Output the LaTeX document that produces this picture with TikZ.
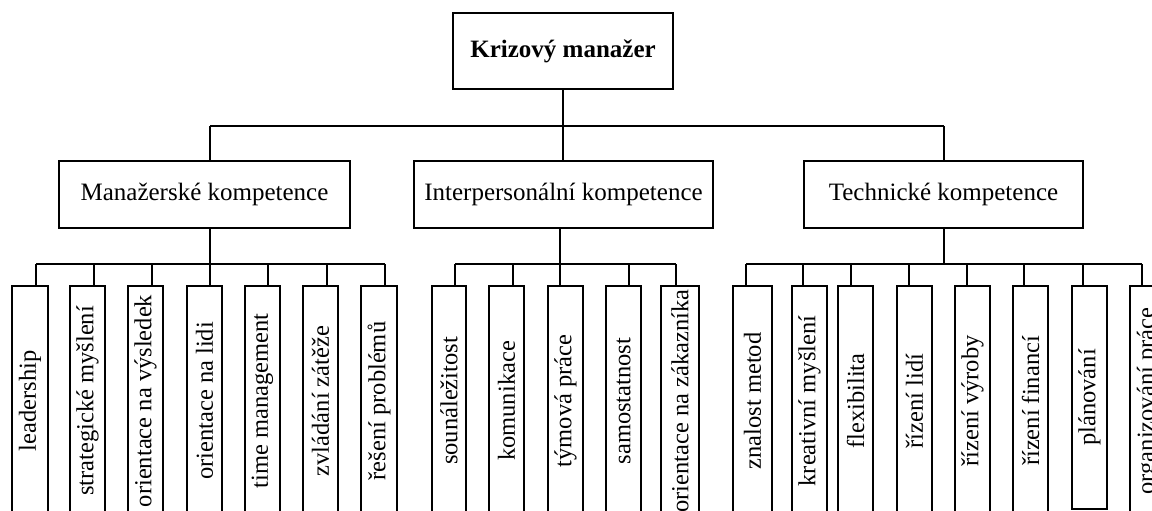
\documentclass[tikz,border=0pt]{standalone}
\usepackage{fontspec}
\setmainfont{Liberation Serif}
\begin{document}
\begin{tikzpicture}[x=1pt,y=-1pt,line width=1.1pt,
  topbox/.style={draw,minimum width=220pt,minimum height=76pt,inner sep=0pt,font=\fontsize{25}{28}\selectfont\bfseries},
  midbox/.style={draw,minimum height=67pt,inner sep=0pt,font=\fontsize{25}{28}\selectfont},
  leaf/.style={draw,rotate=90,minimum width=230pt,inner sep=0pt,font=\fontsize{24.5}{27}\selectfont},
  conn/.style={line width=1.1pt}]
\useasboundingbox (0,0) rectangle (1152,511);
\clip (0,0) rectangle (1152,511);
% top
\node[topbox] (K) at (563,51) {Krizový manažer};
% second level
\node[midbox,minimum width=291pt] (M) at (204.5,194.5) {Manažerské kompetence};
\node[midbox,minimum width=299pt] (I) at (563.5,194.5) {Interpersonální kompetence};
\node[midbox,minimum width=279pt] (T) at (943.5,194.5) {Technické kompetence};
% leaves: manazerske
\node[leaf,minimum height=36pt] (m1) at (30,401) {leadership};
\node[leaf,minimum height=35pt] (m2) at (87.5,401) {strategické myšlení};
\node[leaf,minimum height=35pt] (m3) at (145.5,401) {orientace na výsledek};
\node[leaf,minimum height=35pt] (m4) at (204.5,401) {orientace na lidi};
\node[leaf,minimum height=35pt] (m5) at (262.5,401) {time management};
\node[leaf,minimum height=35pt] (m6) at (320.5,401) {zvládání zátěže};
\node[leaf,minimum height=36pt] (m7) at (379,401) {řešení problémů};
% leaves: interpersonalni
\node[leaf,minimum height=34pt] (i1) at (449,401) {sounáležitost};
\node[leaf,minimum height=35pt] (i2) at (506.5,401) {komunikace};
\node[leaf,minimum height=35pt] (i3) at (565.5,401) {týmová práce};
\node[leaf,minimum height=35pt] (i4) at (623.5,401) {samostatnost};
\node[leaf,minimum height=38pt] (i5) at (680,401) {orientace na zákazníka};
% leaves: technicke
\node[leaf,minimum height=39pt] (t1) at (752.5,401) {znalost metod};
\node[leaf,minimum height=35pt] (t2) at (809.5,401) {kreativní myšlení};
\node[leaf,minimum height=35pt] (t3) at (855.5,401) {flexibilita};
\node[leaf,minimum height=35pt] (t4) at (914.5,401) {řízení lidí};
\node[leaf,minimum height=35pt] (t5) at (972.5,401) {řízení výroby};
\node[leaf,minimum height=35pt] (t6) at (1030.5,401) {řízení financí};
\node[leaf,minimum height=35pt,minimum width=223pt] (t7) at (1089.5,397.5) {plánování};
\node[leaf,minimum height=36pt] (t8) at (1148,401) {organizování práce};
% connectors level 1
\coordinate (kb) at (563,126);
\draw[conn] (K.south) -- (kb);
\draw[conn] (210,126) -- (944,126);
\draw[conn] (210,126) -- (210,0 |- M.north);
\draw[conn] (kb) -- (563,0 |- I.north);
\draw[conn] (944,126) -- (944,0 |- T.north);
% connectors manazerske
\draw[conn] (210,0 |- M.south) -- (210,264);
\draw[conn] (36,264) -- (385,264);
\foreach \x/\n in {36/m1,94/m2,152/m3,210/m4,268/m5,327/m6,385/m7}
  \draw[conn] (\x,264) -- (\x,0 |- \n.east);
% connectors interpersonalni
\draw[conn] (560,0 |- I.south) -- (560,264);
\draw[conn] (455,264) -- (676,264);
\foreach \x/\n in {455/i1,513/i2,560/i3,629/i4,676/i5}
  \draw[conn] (\x,264) -- (\x,0 |- \n.east);
% connectors technicke
\draw[conn] (944,0 |- T.south) -- (944,264);
\draw[conn] (746,264) -- (1142,264);
\foreach \x/\n in {746/t1,803/t2,851/t3,909/t4,967/t5,1024/t6,1083/t7,1142/t8}
  \draw[conn] (\x,264) -- (\x,0 |- \n.east);
\end{tikzpicture}
\end{document}
